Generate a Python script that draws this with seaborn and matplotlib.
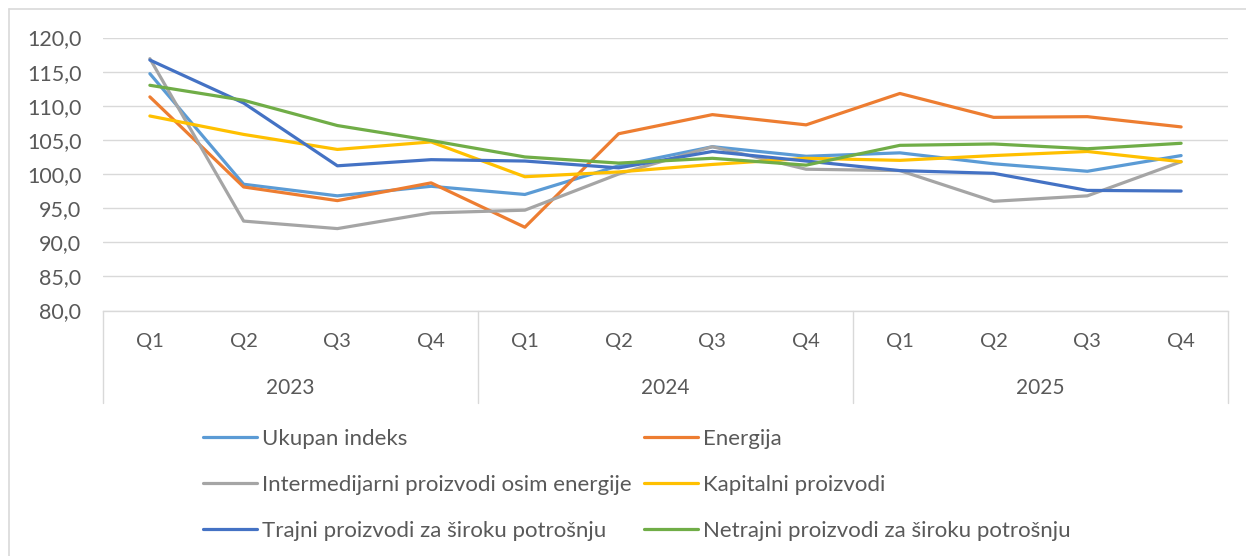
import numpy as np
import pandas as pd
import matplotlib
matplotlib.use("Agg")
import matplotlib.pyplot as plt
from matplotlib.lines import Line2D
import seaborn as sns

quarters = ["Q1", "Q2", "Q3", "Q4"]
years = ["2023", "2024", "2025"]
series_names = [
    "Ukupan indeks",
    "Energija",
    "Intermedijarni proizvodi osim energije",
    "Kapitalni proizvodi",
    "Trajni proizvodi za široku potrošnju",
    "Netrajni proizvodi za široku potrošnju",
]
ukupan = [114.7, 98.5, 96.8, 98.2, 97.0, 101.2, 104.0, 102.6, 103.1, 101.5, 100.4, 102.7]
energija = [111.3, 98.1, 96.1, 98.7, 92.2, 105.9, 108.7, 107.2, 111.8, 108.3, 108.4, 106.9]
intermed = [116.9, 93.1, 92.0, 94.3, 94.7, 100.0, 104.0, 100.7, 100.5, 96.0, 96.8, 101.8]
kapitalni = [108.5, 105.8, 103.6, 104.7, 99.6, 100.3, 101.4, 102.3, 102.0, 102.7, 103.3, 101.8]
trajni = [116.7, 110.4, 101.2, 102.1, 101.9, 100.9, 103.3, 101.9, 100.5, 100.1, 97.6, 97.5]
netrajni = [113.0, 110.8, 107.1, 104.9, 102.5, 101.6, 102.3, 101.3, 104.2, 104.4, 103.7, 104.5]
colors = ["#5B9BD5", "#ED7D31", "#A5A5A5", "#FFC000", "#4472C4", "#70AD47"]

values = [ukupan, energija, intermed, kapitalni, trajni, netrajni]
n = len(quarters) * len(years)
rows = []
for name, vals in zip(series_names, values):
    for i, v in enumerate(vals):
        rows.append({"pos": i, "series": name, "value": v})
df = pd.DataFrame(rows)

sns.set_theme(style="white")
plt.rcParams["font.family"] = ["Lato", "DejaVu Sans"]
TXT = "#595959"
GRID = "#D9D9D9"

W, H = 1246, 556
fig = plt.figure(figsize=(W / 100, H / 100), dpi=100)
ax_left, ax_right, ax_top, ax_bot = 103, 1228, 37.5, 310.5
ax = fig.add_axes([ax_left / W, 1 - ax_bot / H, (ax_right - ax_left) / W, (ax_bot - ax_top) / H])

sns.lineplot(data=df, x="pos", y="value", hue="series", hue_order=series_names,
             palette=dict(zip(series_names, colors)), linewidth=2.3, ax=ax,
             legend=False, sort=False)

ax.set_xlim(-0.5, n - 0.5)
ax.set_ylim(80, 120)
ax.set_yticks(np.arange(80, 121, 5))
ax.set_yticklabels([f"{t:.1f}".replace(".", ",") for t in np.arange(80, 121, 5)],
                   color=TXT, fontsize=15.5)
ax.tick_params(axis="y", length=0, pad=15.5)
ax.set_xticks([])
ax.set_xlabel("")
ax.set_ylabel("")
ax.grid(axis="y", color=GRID, linewidth=1.0)
ax.set_axisbelow(True)
for s in ["top", "right", "left"]:
    ax.spines[s].set_visible(False)
ax.spines["bottom"].set_color(GRID)
ax.spines["bottom"].set_linewidth(1.0)

axh = ax_bot - ax_top
q_y = -(341 - ax_bot) / axh
yr_y = -(388 - ax_bot) / axh
sep_y = -(403 - ax_bot) / axh
trans = ax.get_xaxis_transform()
for i in range(n):
    ax.text(i, q_y, quarters[i % 4], transform=trans, ha="center", va="center",
            color=TXT, fontsize=14.5)
for k, yr in enumerate(years):
    ax.text(k * 4 + 1.5, yr_y, yr, transform=trans, ha="center", va="center",
            color=TXT, fontsize=15)
for k in range(len(years) + 1):
    ax.plot([k * 4 - 0.5, k * 4 - 0.5], [0, sep_y], transform=trans, color=GRID,
            linewidth=1.0, clip_on=False)

# chart frame
fig.add_artist(Line2D([8.5 / W, 1.0], [1 - 9 / H, 1 - 9 / H], transform=fig.transFigure,
                      color=GRID, linewidth=1.2))
fig.add_artist(Line2D([8.5 / W, 8.5 / W], [1 - 9 / H, 0], transform=fig.transFigure,
                      color=GRID, linewidth=1.2))

handles = [Line2D([], [], color=c, linewidth=2.3) for c in colors]
order = [0, 2, 4, 1, 3, 5]
leg = fig.legend([handles[i] for i in order], [series_names[i] for i in order],
                 loc="upper left", bbox_to_anchor=(203 / W, 1 - 429 / H), ncol=2,
                 frameon=False, fontsize=16, handlelength=2.43, handletextpad=0.23,
                 columnspacing=0.55, labelspacing=1.17, borderpad=0, borderaxespad=0)
for t in leg.get_texts():
    t.set_color(TXT)

fig.savefig("out.png", dpi=100)
